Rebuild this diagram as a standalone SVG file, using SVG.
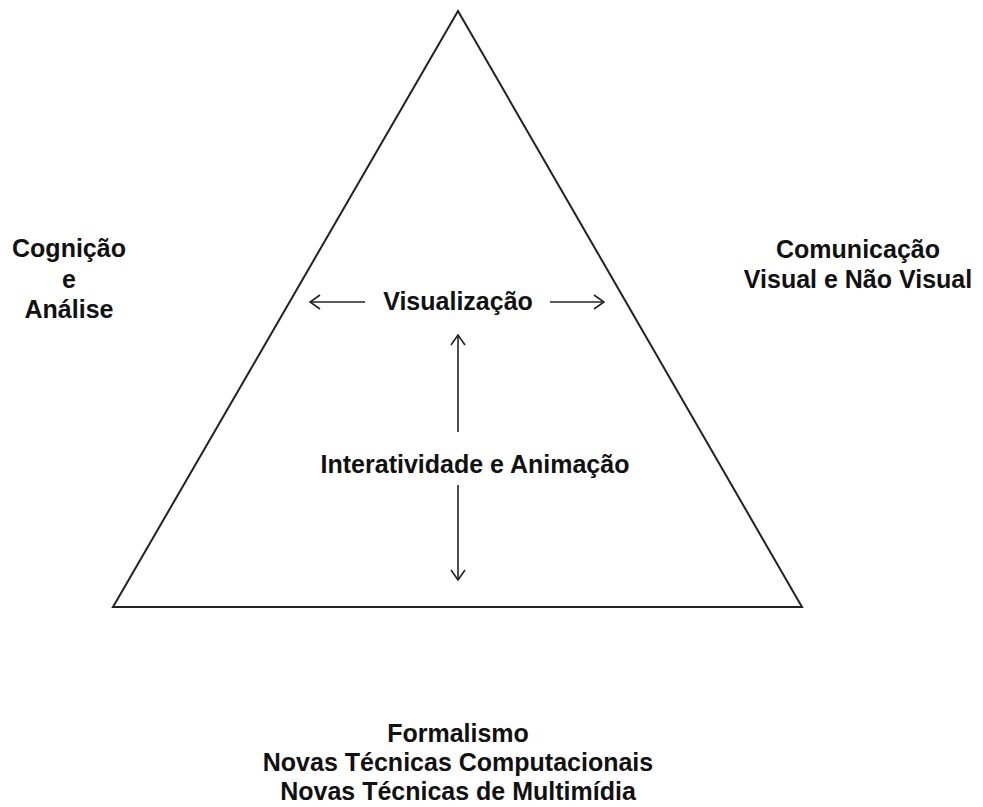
<svg xmlns="http://www.w3.org/2000/svg" width="983" height="807" viewBox="0 0 983 807">
<defs>
<style>
.t{font-family:"Liberation Sans",Arial,Helvetica,sans-serif;font-weight:bold;font-size:25px;fill:#111;text-anchor:middle}
.c{stroke:#222;stroke-width:1.6;fill:none}
</style>
<marker id="ah" viewBox="0 0 12 16" refX="11" refY="8" markerWidth="12" markerHeight="16" markerUnits="userSpaceOnUse" orient="auto">
<path d="M1,1 L11,8 L1,15" fill="none" stroke="#222" stroke-width="1.6"/>
</marker>
</defs>
<rect width="983" height="807" fill="#fff"/>
<g id="triangle">
<polygon points="458,11 802,607 113,607" fill="none" stroke="#222" stroke-width="2"/>
</g>
<g id="cognicao">
<text class="t" x="69" y="257">Cognição</text>
<text class="t" x="69" y="288">e</text>
<text class="t" x="69" y="318">Análise</text>
</g>
<g id="comunicacao">
<text class="t" x="858" y="258">Comunicação</text>
<text class="t" x="858" y="288">Visual e Não Visual</text>
</g>
<g id="visualizacao">
<text class="t" x="458" y="310">Visualização</text>
</g>
<g id="interatividade">
<text class="t" x="475" y="473">Interatividade e Animação</text>
</g>
<g id="formalismo">
<text class="t" x="458" y="742">Formalismo</text>
<text class="t" x="458" y="771">Novas Técnicas Computacionais</text>
<text class="t" x="458" y="800">Novas Técnicas de Multimídia</text>
</g>
<g id="connectors">
<line class="c" x1="365" y1="302" x2="310" y2="302" marker-end="url(#ah)"/>
<line class="c" x1="550" y1="302" x2="604" y2="302" marker-end="url(#ah)"/>
<line class="c" x1="458" y1="432" x2="458" y2="335" marker-end="url(#ah)"/>
<line class="c" x1="458" y1="485" x2="458" y2="580" marker-end="url(#ah)"/>
</g>
</svg>
